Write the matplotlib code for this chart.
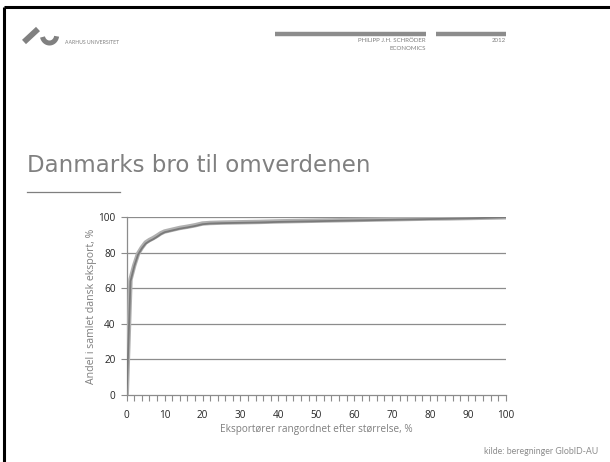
import matplotlib
matplotlib.use("Agg")
import matplotlib.pyplot as plt
import numpy as np

# Data
rank_pct = [0, 1, 2, 3, 4, 5, 6, 7, 8, 9, 10, 12, 14, 16, 18, 20, 22, 25, 30, 35,
            40, 45, 50, 55, 60, 65, 70, 75, 80, 85, 90, 95, 100]
share_a = [0, 65, 73, 79.5, 83, 85.8, 87.2, 88.3, 89.6, 91, 92, 93, 94, 94.7, 95.5, 96.5,
           96.8, 97, 97.2, 97.4, 97.7, 97.9, 98.1, 98.3, 98.5, 98.7, 98.9, 99.1, 99.3,
           99.4, 99.6, 99.8, 100]
share_b = [0, 64, 72.5, 79, 82.5, 85.2, 86.6, 87.7, 89.0, 90.5, 91.6, 92.6, 93.6, 94.3, 95.1, 96.1,
           96.5, 96.7, 96.9, 97.1, 97.4, 97.6, 97.8, 98.0, 98.2, 98.4, 98.6, 98.8, 99.0,
           99.2, 99.4, 99.7, 100]
x_ticks = list(range(0, 101, 10))
y_ticks = [0, 20, 40, 60, 80, 100]

title = "Danmarks bro til omverdenen"
ylabel = "Andel i samlet dansk eksport, %"
xlabel = "Eksportører rangordnet efter størrelse, %"
source = "kilde: beregninger GlobID-AU"

W, H = 610, 462
fig = plt.figure(figsize=(W / 100, H / 100), dpi=100)
fig.patch.set_facecolor("white")

# Overlay in pixel coordinates for slide decorations
ov = fig.add_axes([0, 0, 1, 1], zorder=0)
ov.set_xlim(0, W)
ov.set_ylim(H, 0)
ov.axis("off")

# Slide frame (left and top black edges)
ov.plot([4, 4], [7, H], color="black", lw=2.2, solid_capstyle="butt")
ov.plot([4, W], [7, 7], color="black", lw=2.2, solid_capstyle="butt")

# Header bars
ov.plot([275, 426], [33.5, 33.5], color="#8c8c8c", lw=3.2, solid_capstyle="butt")
ov.plot([436, 506], [33.5, 33.5], color="#8c8c8c", lw=3.2, solid_capstyle="butt")

hdr_font = ["Lato", "DejaVu Sans"]
ov.text(426, 40.5, "PHILIPP J.H. SCHRÖDER", ha="right", va="center", fontsize=4.4, color="#7f7f7f", family=hdr_font)
ov.text(426, 48.5, "ECONOMICS", ha="right", va="center", fontsize=4.4, color="#7f7f7f", family=hdr_font)
ov.text(506, 40.5, "2012", ha="right", va="center", fontsize=4.4, color="#7f7f7f", family=hdr_font)
ov.text(65, 43, "AARHUS UNIVERSITET", ha="left", va="center", fontsize=3.7, color="#7f7f7f", family=hdr_font)

# Logo
ov.plot([24, 38], [42, 29], color="#808080", lw=4.2, solid_capstyle="butt")
t = np.linspace(np.pi * 1.08, np.pi * 1.95, 40)
ov.plot(49.5 + 7.2 * np.cos(t), 35 - 8 * np.sin(t), color="#808080", lw=3.6, solid_capstyle="butt")

# Title + rule
ov.text(27, 165, title, ha="left", va="center", fontsize=16.5, color="#808080", family=["DejaVu Sans"])
ov.plot([27, 120], [191.5, 191.5], color="#7f7f7f", lw=0.9)

ov.text(598, 452, source, ha="right", va="center", fontsize=6.3, color="#8c8c8c", family=hdr_font)

# Chart
ax = fig.add_axes([126.7 / W, 1 - 395 / H, (505.7 - 126.7) / W, (395 - 217.3) / H], zorder=2)
ax.set_xlim(0, 100)
ax.set_ylim(0, 100)
for y in y_ticks[1:]:
    ax.axhline(y, color="#8c8c8c", lw=0.9, zorder=1)
ax.plot(rank_pct, share_a, color="#b0b0b0", lw=3.2, zorder=3, solid_joinstyle="round")
ax.plot(rank_pct, share_b, color="#7a7a7a", lw=1.3, zorder=4, solid_joinstyle="round")

for s in ["top", "right"]:
    ax.spines[s].set_visible(False)
for s in ["left", "bottom"]:
    ax.spines[s].set_color("#8c8c8c")
    ax.spines[s].set_linewidth(0.9)

tick_font = ["Open Sans", "DejaVu Sans"]
ax.set_xticks(x_ticks)
ax.set_xticks(np.arange(0, 101, 2), minor=True)
ax.set_yticks(y_ticks)
ax.tick_params(axis="x", which="both", direction="out", length=4, width=0.8, color="#8c8c8c", pad=7, labelsize=7.2, labelcolor="#262626")
ax.tick_params(axis="y", which="major", direction="out", length=4, width=0.8, color="#8c8c8c", pad=4, labelsize=7.2, labelcolor="#262626")
for lbl in ax.get_xticklabels() + ax.get_yticklabels():
    lbl.set_family(tick_font)

ax.set_xlabel(xlabel, fontsize=7.2, color="#7f7f7f", family=tick_font, labelpad=2)
ax.set_ylabel(ylabel, fontsize=7.6, color="#7f7f7f", family=tick_font, labelpad=1)

fig.savefig("out.png", dpi=100, facecolor="white")
